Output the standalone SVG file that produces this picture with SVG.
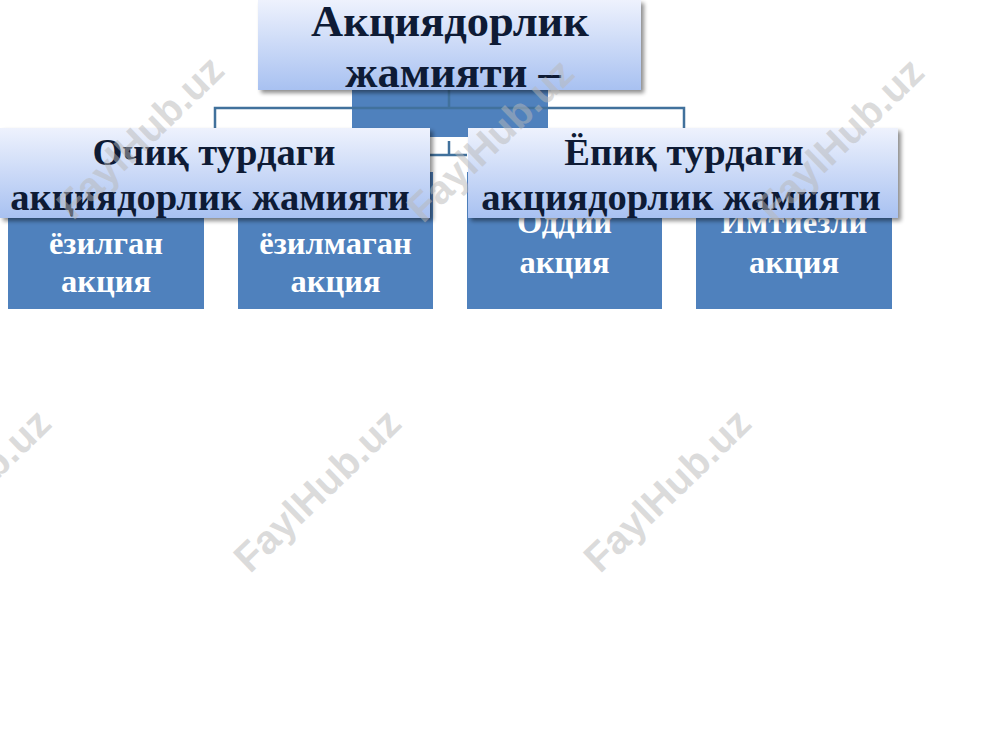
<svg xmlns="http://www.w3.org/2000/svg" width="1000" height="750" viewBox="0 0 1000 750">
<defs>
<linearGradient id="lbl" x1="0" y1="0" x2="0" y2="1">
<stop offset="0" stop-color="#eef2fd"/>
<stop offset="1" stop-color="#a8c1f1"/>
</linearGradient>
<filter id="sh" x="-5%" y="-10%" width="115%" height="130%">
<feGaussianBlur in="SourceAlpha" stdDeviation="2"/>
<feOffset dx="3" dy="3" result="b"/>
<feComponentTransfer><feFuncA type="linear" slope="0.45"/></feComponentTransfer>
<feMerge><feMergeNode/><feMergeNode in="SourceGraphic"/></feMerge>
</filter>
</defs>
<style>
.box{fill:#4f81bd}
.lbl{fill:url(#lbl);filter:url(#sh)}
.ln{fill:none;stroke:#41719c;stroke-width:2.5}
.t{font-family:"Liberation Serif","Times New Roman",serif;font-weight:bold;text-anchor:middle}
.dk{fill:#0e1b35}
.wt{fill:#ffffff;font-size:32.5px}
.wm{font-family:"Liberation Sans",Arial,sans-serif;font-weight:bold;font-size:40px;fill:#b8b8b8;fill-opacity:0.5;text-anchor:middle}
</style>
<rect width="1000" height="750" fill="#ffffff"/>
<g id="root-shape"><rect class="box" x="352" y="90" width="196" height="38"/><rect class="box" x="430" y="127" width="38" height="10"/></g>
<g id="connectors">
<path class="ln" d="M449,90 V108 M215,128 V108 H684 V128"/>
<path class="ln" d="M430,155 H467 M449,141 V155"/>
</g>
<g id="n-ezilgan"><rect class="box" x="8" y="172" width="196" height="137"/><text class="t wt" x="106" y="254">ёзилган</text><text class="t wt" x="106" y="292">акция</text></g>
<g id="n-ezilmagan"><rect class="box" x="238" y="172" width="195" height="137"/><text class="t wt" x="335.5" y="254">ёзилмаган</text><text class="t wt" x="335.5" y="292">акция</text></g>
<g id="n-oddiy"><rect class="box" x="467" y="172" width="195" height="137"/><text class="t wt" x="564.5" y="233">Оддий</text><text class="t wt" x="564.5" y="273">акция</text></g>
<g id="n-imtiyozli"><rect class="box" x="696" y="172" width="196" height="137"/><text class="t wt" x="794" y="233">Имтиезли</text><text class="t wt" x="794" y="273">акция</text></g>
<g id="n-top"><rect class="lbl" x="258" y="0" width="383" height="90"/><text class="t dk" font-size="44.5" x="450" y="36">Акциядорлик</text><text class="t dk" font-size="44.5" x="453" y="87">жамияти –</text></g>
<g id="n-ochiq"><rect class="lbl" x="0" y="128" width="430" height="90"/><text class="t dk" font-size="38.6" x="214" y="165">Очиқ турдаги</text><text class="t dk" font-size="38.6" x="210" y="210">акциядорлик жамияти</text></g>
<g id="n-yopiq"><rect class="lbl" x="468" y="128" width="430" height="90"/><text class="t dk" font-size="38.6" x="684" y="165">Ёпиқ турдаги</text><text class="t dk" font-size="38.6" x="681" y="210">акциядорлик жамияти</text></g>
<g id="watermarks">
<text class="wm" transform="translate(140,137) rotate(-44)" y="14">FaylHub.uz</text>
<text class="wm" transform="translate(490,140) rotate(-44)" y="14">FaylHub.uz</text>
<text class="wm" transform="translate(840,139) rotate(-44)" y="14">FaylHub.uz</text>
<text class="wm" transform="translate(-33,490) rotate(-44)" y="14">FaylHub.uz</text>
<text class="wm" transform="translate(317,490) rotate(-44)" y="14">FaylHub.uz</text>
<text class="wm" transform="translate(667,490) rotate(-44)" y="14">FaylHub.uz</text>
</g>
</svg>
